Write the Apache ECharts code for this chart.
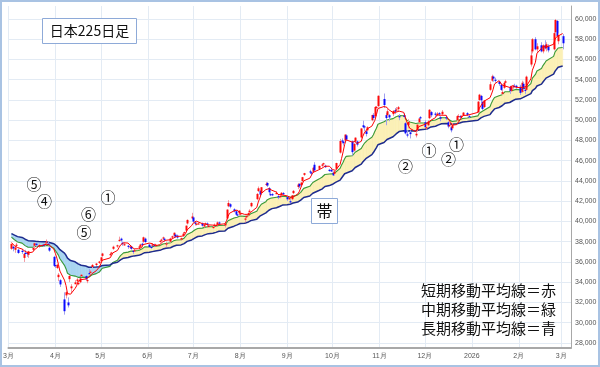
<!DOCTYPE html>
<html><head><meta charset="utf-8">
<script src="https://cdn.jsdelivr.net/npm/echarts@6/dist/echarts.min.js"></script>
<style>html,body{margin:0;padding:0;background:#fff}#c{width:600px;height:367px}</style>
</head><body><div id="c"></div>
<script>
// ---- data ----
const dates = [
'2025-03-03','2025-03-04','2025-03-05','2025-03-06','2025-03-07','2025-03-10','2025-03-11','2025-03-12','2025-03-13','2025-03-14','2025-03-17','2025-03-18','2025-03-19','2025-03-21','2025-03-24','2025-03-25','2025-03-26','2025-03-27','2025-03-28','2025-03-31',
'2025-04-01','2025-04-02','2025-04-03','2025-04-04','2025-04-07','2025-04-08','2025-04-09','2025-04-10','2025-04-11','2025-04-14','2025-04-15','2025-04-16','2025-04-17','2025-04-18','2025-04-21','2025-04-22','2025-04-23','2025-04-24','2025-04-25','2025-04-28','2025-04-30',
'2025-05-01','2025-05-02','2025-05-07','2025-05-08','2025-05-09','2025-05-12','2025-05-13','2025-05-14','2025-05-15','2025-05-16','2025-05-19','2025-05-20','2025-05-21','2025-05-22','2025-05-23','2025-05-26','2025-05-27','2025-05-28','2025-05-29','2025-05-30',
'2025-06-02','2025-06-03','2025-06-04','2025-06-05','2025-06-06','2025-06-09','2025-06-10','2025-06-11','2025-06-12','2025-06-13','2025-06-16','2025-06-17','2025-06-18','2025-06-19','2025-06-20','2025-06-23','2025-06-24','2025-06-25','2025-06-26','2025-06-27','2025-06-30',
'2025-07-01','2025-07-02','2025-07-03','2025-07-04','2025-07-07','2025-07-08','2025-07-09','2025-07-10','2025-07-11','2025-07-14','2025-07-15','2025-07-16','2025-07-17','2025-07-18','2025-07-22','2025-07-23','2025-07-24','2025-07-25','2025-07-28','2025-07-29','2025-07-30','2025-07-31',
'2025-08-01','2025-08-04','2025-08-05','2025-08-06','2025-08-07','2025-08-08','2025-08-12','2025-08-13','2025-08-14','2025-08-15','2025-08-18','2025-08-19','2025-08-20','2025-08-21','2025-08-22','2025-08-25','2025-08-26','2025-08-27','2025-08-28','2025-08-29',
'2025-09-01','2025-09-02','2025-09-03','2025-09-04','2025-09-05','2025-09-08','2025-09-09','2025-09-10','2025-09-11','2025-09-12','2025-09-16','2025-09-17','2025-09-18','2025-09-19','2025-09-22','2025-09-24','2025-09-25','2025-09-26','2025-09-29','2025-09-30',
'2025-10-01','2025-10-02','2025-10-03','2025-10-06','2025-10-07','2025-10-08','2025-10-09','2025-10-10','2025-10-14','2025-10-15','2025-10-16','2025-10-17','2025-10-20','2025-10-21','2025-10-22','2025-10-23','2025-10-24','2025-10-27','2025-10-28','2025-10-29','2025-10-30','2025-10-31',
'2025-11-04','2025-11-05','2025-11-06','2025-11-07','2025-11-10','2025-11-11','2025-11-12','2025-11-13','2025-11-14','2025-11-17','2025-11-18','2025-11-19','2025-11-20','2025-11-21','2025-11-25','2025-11-26','2025-11-27','2025-11-28',
'2025-12-01','2025-12-02','2025-12-03','2025-12-04','2025-12-05','2025-12-08','2025-12-09','2025-12-10','2025-12-11','2025-12-12','2025-12-15','2025-12-16','2025-12-17','2025-12-18','2025-12-19','2025-12-22','2025-12-23','2025-12-24','2025-12-25','2025-12-26','2025-12-29','2025-12-30',
'2026-01-05','2026-01-06','2026-01-07','2026-01-08','2026-01-09','2026-01-13','2026-01-14','2026-01-15','2026-01-16','2026-01-19','2026-01-20','2026-01-21','2026-01-22','2026-01-23','2026-01-26','2026-01-27','2026-01-28','2026-01-29','2026-01-30',
'2026-02-02','2026-02-03','2026-02-04','2026-02-05','2026-02-06','2026-02-09','2026-02-10','2026-02-12','2026-02-13','2026-02-16','2026-02-17','2026-02-18','2026-02-19','2026-02-20','2026-02-24','2026-02-25','2026-02-26','2026-02-27',
'2026-03-02'];
const opens = [
37300,37500,37200,37600,37200,37100,36400,36900,36900,36700,37200,37600,37800,37600,37700,37700,38000,37800,37400,36500,
35700,35400,34500,34200,32300,32700,32000,34300,33400,33800,34100,33800,34000,34600,34600,34100,34900,35000,35500,35700,35900,
36100,36600,36700,36900,37300,37600,38100,38300,37900,37700,37600,37500,37500,37100,37100,37400,37500,37800,38000,38300,
37700,37500,37600,37700,37600,38000,38100,38300,38300,37800,38000,38400,38600,38700,38600,38200,38600,38900,39100,39800,40300,
40400,39900,39700,39800,39800,39500,39700,39800,39500,39400,39600,39600,39700,39900,39600,40300,41500,41700,41200,41000,40700,40800,
40700,40200,40400,40600,41000,41500,42200,43000,43000,42800,43600,43800,43300,42700,42700,42700,42500,42400,42600,42800,
42400,42300,42000,42200,42800,43400,43700,43600,44000,44600,44950,44850,44900,45600,45200,45500,45650,45500,45100,45100,
44800,44700,45200,46800,48000,47900,48000,48500,47900,47000,47900,47900,48300,49500,49400,48900,49000,50000,50500,50400,51200,51400,
52100,50500,50500,50500,50600,51000,51000,51100,50400,50500,49700,48600,49500,48800,48500,49000,49800,50300,
49800,49200,49500,50200,50800,50650,50500,50700,50300,50600,50300,49800,49500,49300,49200,50000,50350,50400,50300,50500,50700,50400,
50800,52000,52400,51800,51300,53000,53900,54300,54000,53800,53500,52600,53200,53700,53300,52900,53300,53400,53400,
53300,52800,53600,53000,53000,55500,56800,58000,57000,57400,56800,57400,57100,57300,57000,58700,59800,57800,
58300];
const highs = [
37800,37600,37500,37900,37300,37300,36900,37200,37000,37100,37500,37900,37900,37800,37800,37900,38220,38000,37500,36600,
36000,35800,34900,34300,33000,33100,32500,34700,33800,34200,34400,34000,34400,34800,34700,34300,35300,35200,35800,35900,36100,
36500,36900,36900,37000,37600,37700,38500,38400,38000,37900,37700,37600,37600,37200,37300,37600,37800,37900,38500,38400,
37800,37600,37800,37800,37800,38100,38300,38500,38400,38000,38400,38600,38900,38800,38700,38400,38900,39000,39600,40200,40850,
40500,40000,39900,39900,39900,39700,39900,39900,39700,39600,39800,39700,40000,40000,39800,41200,42100,41800,41300,41100,40900,41100,
40900,40400,40600,40900,41200,41900,42800,43450,43100,43400,43900,43900,43400,42900,42800,43000,42600,42600,42900,42900,
42500,42400,42200,42600,43100,43800,43800,43900,44400,44800,45100,44900,45400,45850,45500,45700,45800,45600,45200,45300,
44900,45000,45800,48150,48200,48000,48600,48600,48000,47700,48300,48000,49200,49950,49500,49000,49400,50550,50700,51400,51400,52450,
52636,50700,51100,50600,51000,51200,51300,51400,50600,50700,49800,49000,50100,49000,48900,49600,50200,50400,
50000,49600,50000,51100,50900,50800,50800,50800,50400,51000,50500,49900,49800,49400,49700,50500,50600,50500,50500,50800,50800,50500,
51900,52600,52500,51900,52000,53800,54500,54400,54200,53900,53600,53000,53800,54000,53400,53400,53500,53600,53500,
53500,53900,53800,53300,54400,57000,58100,58200,57600,57700,57500,57900,57700,57500,58700,60000,59900,58600,
58500];
const lows = [
37200,37050,36900,37500,36800,36800,36000,36600,36500,36400,37100,37400,37500,37400,37500,37600,37900,37600,37000,35500,
35400,35300,34100,33530,30792,32400,31500,34000,32900,33800,34000,33700,33900,34500,34200,33900,34800,34800,35400,35600,35800,
36000,36500,36600,36700,37200,37400,38000,38000,37600,37600,37300,37300,37200,36800,37000,37300,37400,37600,37900,37900,
37400,37300,37600,37500,37500,37900,38000,38200,38000,37500,37900,38300,38500,38400,38300,38100,38500,38800,39000,39700,40200,
39900,39600,39600,39700,39500,39400,39600,39500,39400,39300,39500,39500,39600,39700,39400,40200,41400,41300,40900,40600,40500,40600,
40600,39900,40300,40500,40900,41400,42100,42900,42500,42700,43500,43400,42700,42500,42500,42700,42200,42300,42500,42600,
42000,42100,41800,42100,42700,43200,43300,43500,43900,44500,44700,44500,44800,44900,45100,45400,45500,45300,44900,44900,
44500,44600,45100,46700,47700,47500,47900,48000,46500,46900,47800,47400,48200,49200,48900,48400,48900,49900,50000,50300,50800,51300,
51200,49500,50300,49900,50400,50600,50800,50900,50000,50200,48600,48300,49200,48200,48300,48900,49700,50000,
49300,49100,49400,50100,50300,50300,50400,50400,49900,50500,50000,49200,49400,48800,49100,49900,50200,50200,50200,50400,50400,50200,
50700,51900,51800,51000,51200,52900,53800,53800,53700,53400,52900,52500,53100,53500,52600,52800,53100,53200,53100,
52500,52700,52900,52600,52900,55300,56600,56900,56600,56700,56600,57000,56800,56700,56900,58500,58200,57500,
57000];
const closes = [
37785,37331,37418,37705,36887,37028,36793,36819,36790,37053,37396,37845,37751,37677,37608,37780,38027,37799,37120,35617,
35624,35725,34735,33780,31136,33012,31714,34609,33585,33982,34267,33920,34377,34730,34280,34220,34868,35039,35705,35839,36045,
36452,36831,36780,36928,37503,37644,38183,38128,37755,37753,37498,37529,37299,36985,37160,37531,37724,37722,38432,37965,
37470,37446,37747,37554,37741,38088,38211,38421,38173,37834,38311,38536,38885,38488,38403,38354,38790,38942,39584,40150,40487,
39986,39762,39785,39810,39587,39688,39821,39646,39570,39459,39678,39663,39901,39819,39774,41171,41826,41456,40998,40674,40654,41069,
40799,40290,40549,40794,41059,41820,42718,43274,42649,43378,43714,43546,42888,42610,42633,42807,42394,42520,42829,42718,
42188,42310,41938,42580,43018,43643,43459,43837,44372,44768,44902,44790,45303,45045,45493,45630,45754,45354,45043,44932,
44550,44936,45769,47944,47950,47734,48580,48088,46847,47672,48277,47582,49185,49316,49307,48641,49299,50512,50219,51307,51325,52411,
51497,50212,50883,50276,50911,50842,51063,51281,50376,50323,48702,48537,49823,48625,48659,49559,50167,50253,
49303,49303,49864,51028,50491,50581,50655,50602,50148,50836,50168,49383,49512,49001,49507,50402,50412,50344,50407,50750,50527,50339,
51832,52518,51961,51117,51939,53549,54341,54110,53936,53583,52991,52774,53688,53846,52885,53333,53358,53375,53322,
52700,53700,53100,52900,54300,56400,58000,57000,57300,56800,57400,57100,57500,56900,58600,59900,58300,58400,
57600];
// closes before the visible window (Dec 2024 - Feb 2025), used only to start the moving averages
const preCloses = [
38513,39248,39276,39395,39091,39160,39367,39372,39849,39470,39457,39364,39081,38813,38701,39161,39036,39130,39568,40281,39894,
39307,40083,39981,39605,39190,38474,38444,38572,38451,38902,39027,39646,39958,39931,39565,39016,39414,39513,39572,
38520,38798,38831,39066,38787,38801,38963,39461,39149,39174,39270,38678,38678,38776,38237,38142,38256,37155];
const maPeriods = [5, 15, 35];
const yTicks = [28000,30000,32000,34000,36000,38000,40000,42000,44000,46000,48000,50000,52000,54000,56000,58000,60000];
const monthTicks = ['2025-03-01','2025-04-01','2025-05-01','2025-06-01','2025-07-01','2025-08-01','2025-09-01','2025-10-01','2025-11-01','2025-12-01','2026-01-01','2026-02-01','2026-03-01'];

// ---- build ----
const tsOf = s => +new Date(s + 'T00:00:00');
const ts = dates.map(tsOf);
const monthTs = monthTicks.map(tsOf);
const all = preCloses.concat(closes);
function sma(arr, n) {
  const out = [];
  for (let i = 0; i < arr.length; i++) {
    if (i < n - 1) { out.push(null); continue; }
    let s = 0; for (let k = i - n + 1; k <= i; k++) s += arr[k];
    out.push(s / n);
  }
  return out.slice(preCloses.length);
}
function ema(arr, n) {
  const a = 2 / (n + 1), out = [];
  let e = null;
  for (let i = 0; i < arr.length; i++) {
    if (i < n - 1) { out.push(null); continue; }
    if (e === null) { let s = 0; for (let k = 0; k < n; k++) s += arr[k]; e = s / n; }
    else e = e + a * (arr[i] - e);
    out.push(e);
  }
  return out.slice(preCloses.length);
}
const maShort = sma(all, maPeriods[0]);
const maMid = ema(all, maPeriods[1]);
const maLong = ema(all, maPeriods[2]);

const YEL = '#fbf0b6', SKY = '#a9d5f1';
const bandData = [];
for (let i = 0; i < ts.length - 1; i++) bandData.push([ts[i], maMid[i], maLong[i], ts[i+1], maMid[i+1], maLong[i+1]]);
function bandItem(params, api) {
  const t0 = api.value(0), m0 = api.value(1), l0 = api.value(2), t1 = api.value(3), m1 = api.value(4), l1 = api.value(5);
  const A = api.coord([t0, m0]), B = api.coord([t1, m1]), C = api.coord([t1, l1]), D = api.coord([t0, l0]);
  const d0 = m0 - l0, d1 = m1 - l1;
  const col = d => d >= 0 ? YEL : SKY;
  const st = c => ({ fill: c, stroke: c, lineWidth: 0.6 });
  if (d0 * d1 >= 0) return { type: 'polygon', shape: { points: [A, B, C, D] }, style: st(col(d0 + d1)) };
  const f = d0 / (d0 - d1);
  const X = [A[0] + (B[0] - A[0]) * f, A[1] + (B[1] - A[1]) * f];
  return { type: 'group', children: [
    { type: 'polygon', shape: { points: [A, X, D] }, style: st(col(d0)) },
    { type: 'polygon', shape: { points: [X, B, C] }, style: st(col(d1)) }
  ]};
}
const candleData = ts.map((t, i) => [t, opens[i], closes[i], lows[i], highs[i]]);
function candleItem(params, api) {
  const t = api.value(0), o = api.value(1), c = api.value(2), l = api.value(3), h = api.value(4);
  const pO = api.coord([t, o]), pC = api.coord([t, c]), pL = api.coord([t, l]), pH = api.coord([t, h]);
  const up = c >= o;
  const x = Math.round(pO[0]);
  const top = Math.min(pO[1], pC[1]), bot = Math.max(pO[1], pC[1]);
  return { type: 'group', children: [
    { type: 'line', shape: { x1: x + 0.5, y1: pH[1], x2: x + 0.5, y2: pL[1] }, style: { stroke: up ? '#f39aa2' : '#a0a0ee', lineWidth: 1 } },
    { type: 'rect', shape: { x: x - 0.5, y: top, width: 2, height: Math.max(bot - top, 1.2) }, style: { fill: up ? '#ff0a0a' : '#0a0aff' } }
  ]};
}
const fmtY = v => String(v).replace(/\B(?=(\d{3})+(?!\d))/g, ',');
const fmtX = v => { const d = new Date(v); return d.getMonth() === 0 ? String(d.getFullYear()) : (d.getMonth() + 1) + '月'; };
const JP = '"Noto Sans CJK JP", "Noto Sans", sans-serif';
const txt = (text, x, y, size, align) => ({ type: 'text', z: 100, style: { text, x, y, font: size + 'px ' + JP, fill: '#111', align: align || 'center', verticalAlign: 'middle', textAlign: align || 'center', textVerticalAlign: 'middle' } });

const chart = echarts.init(document.getElementById('c'), null, { renderer: 'canvas' });
chart.setOption({
  animation: false,
  backgroundColor: '#ffffff',
  grid: { left: 3, right: 29, top: 6, bottom: 19 },
  xAxis: {
    type: 'value', min: tsOf('2025-03-01'), max: tsOf('2026-03-07') + 12 * 3600e3,
    axisLine: { show: true, onZero: false, lineStyle: { color: '#a8a8a8', width: 2 } },
    axisTick: { show: false, customValues: monthTs },
    axisLabel: { customValues: monthTs, formatter: fmtX, fontSize: 7, color: '#555', margin: 5, fontFamily: 'Liberation Sans', hideOverlap: false },
    splitLine: { show: true, lineStyle: { color: '#e3ebf4', width: 1 } }
  },
  yAxis: {
    type: 'value', position: 'right', min: 27500, max: 61280,
    axisLine: { show: true, lineStyle: { color: '#a8a8a8', width: 1 } },
    axisTick: { show: false, customValues: yTicks },
    axisLabel: { customValues: yTicks, formatter: fmtY, fontSize: 7, color: '#555', margin: 4, fontFamily: 'Liberation Sans' },
    splitLine: { show: true, lineStyle: { color: '#e3ebf4', width: 1 } }
  },
  series: [
    { type: 'custom', name: 'band', renderItem: bandItem, data: bandData, encode: { x: [0, 3], y: [1, 2, 4, 5] }, clip: true, z: 1, silent: true },
    { type: 'line', name: '中期', data: ts.map((t, i) => [t, maMid[i]]), showSymbol: false, lineStyle: { color: '#3a9a3a', width: 1.1 }, z: 2, silent: true },
    { type: 'line', name: '長期', data: ts.map((t, i) => [t, maLong[i]]), showSymbol: false, lineStyle: { color: '#1e2c8e', width: 1.5 }, z: 2, silent: true },
    { type: 'custom', name: '日本225', renderItem: candleItem, data: candleData, encode: { x: 0, y: [1, 2, 3, 4] }, clip: true, z: 3 },
    { type: 'line', name: '短期', data: ts.map((t, i) => [t, maShort[i]]), showSymbol: false, lineStyle: { color: '#ff0000', width: 1 }, z: 4, silent: true }
  ],
  graphic: { elements: [
    { type: 'rect', z: 99, shape: { x: 42.5, y: 18.5, width: 94, height: 25 }, style: { fill: '#fff', stroke: '#8eaad8', lineWidth: 1 } },
    txt('日本225日足', 89.5, 31, 14),
    { type: 'rect', z: 99, shape: { x: 311.5, y: 198.5, width: 26, height: 25 }, style: { fill: '#fff', stroke: '#8eaad8', lineWidth: 1 } },
    txt('帯', 324.5, 211, 16),
    txt('⑤', 34, 184, 15), txt('④', 44.5, 201, 15), txt('①', 108, 197.5, 15), txt('⑥', 88.5, 214.5, 15), txt('⑤', 84, 232, 15),
    txt('②', 405.5, 166.5, 15), txt('①', 429, 150.5, 15), txt('②', 448.5, 159, 15), txt('①', 456.5, 144, 15),
    txt('短期移動平均線＝赤', 421, 290, 15, 'left'),
    txt('中期移動平均線＝緑', 421, 309, 15, 'left'),
    txt('長期移動平均線＝青', 421, 328, 15, 'left'),
    { type: 'rect', z: 120, shape: { x: 1, y: 1, width: 598, height: 365 }, style: { fill: 'none', stroke: '#a9c3e3', lineWidth: 2 } }
  ]}
});
</script></body></html>
